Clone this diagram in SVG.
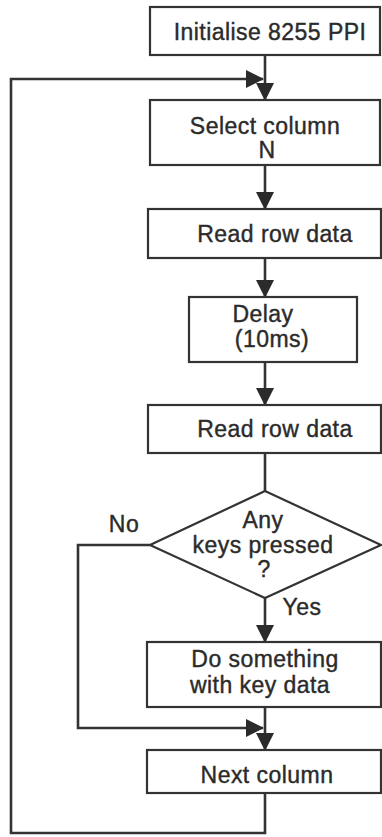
<svg xmlns="http://www.w3.org/2000/svg" width="382" height="837" viewBox="0 0 382 837">
<style>
.box{fill:#fff;stroke:#333;stroke-width:2.2}
.t{font-family:"Liberation Sans",Arial,sans-serif;font-size:23px;letter-spacing:0.45px;fill:#2b2b2b;stroke:#2b2b2b;stroke-width:0.4;text-anchor:middle}
.c{fill:none;stroke:#333;stroke-width:2.6}
</style>
<defs>
<marker id="ah" markerUnits="userSpaceOnUse" markerWidth="18" markerHeight="18" viewBox="0 0 18 18" refX="17" refY="9" orient="auto">
<path d="M0,0 L18,9 L0,18 Z" fill="#2b2b2b"/>
</marker>
</defs>
<rect width="382" height="837" fill="#fff"/>
<g id="connectors">
<path class="c" d="M265,55 V100" marker-end="url(#ah)"/>
<path class="c" d="M265,793 V833 H11 V79 H263" marker-end="url(#ah)"/>
<path class="c" d="M265,165 V209" marker-end="url(#ah)"/>
<path class="c" d="M265,258 V297" marker-end="url(#ah)"/>
<path class="c" d="M265,362 V405" marker-end="url(#ah)"/>
<path class="c" d="M265,453 V491"/>
<path class="c" d="M265,598 V642" marker-end="url(#ah)"/>
<path class="c" d="M150,545 H78 V728 H263" marker-end="url(#ah)"/>
<path class="c" d="M265,707 V750" marker-end="url(#ah)"/>
</g>
<g id="init">
<rect class="box" x="150" y="7" width="230" height="48"/>
<text class="t" x="270" y="40">Initialise 8255 PPI</text>
</g>
<g id="select">
<rect class="box" x="150" y="100" width="230" height="65"/>
<text class="t" x="265" y="134">Select column</text>
<text class="t" x="267" y="158">N</text>
</g>
<g id="read1">
<rect class="box" x="148" y="209" width="233" height="49"/>
<text class="t" x="275" y="242">Read row data</text>
</g>
<g id="delay">
<rect class="box" x="189" y="297" width="168" height="65"/>
<text class="t" x="263" y="322">Delay</text>
<text class="t" x="272" y="347">(10ms)</text>
</g>
<g id="read2">
<rect class="box" x="148" y="405" width="233" height="48"/>
<text class="t" x="275" y="437">Read row data</text>
</g>
<g id="decision">
<path class="box" d="M265,491 L381,545 L265,598 L150,545 Z"/>
<text class="t" x="263" y="528">Any</text>
<text class="t" x="263" y="553">keys pressed</text>
<text class="t" x="264" y="577">?</text>
<text class="t" x="124" y="532">No</text>
<text class="t" x="302" y="615">Yes</text>
</g>
<g id="dosomething">
<rect class="box" x="147" y="642" width="234" height="65"/>
<text class="t" x="265" y="667">Do something</text>
<text class="t" x="260" y="693">with key data</text>
</g>
<g id="next">
<rect class="box" x="147" y="750" width="234" height="43"/>
<text class="t" x="267" y="783">Next column</text>
</g>
</svg>
